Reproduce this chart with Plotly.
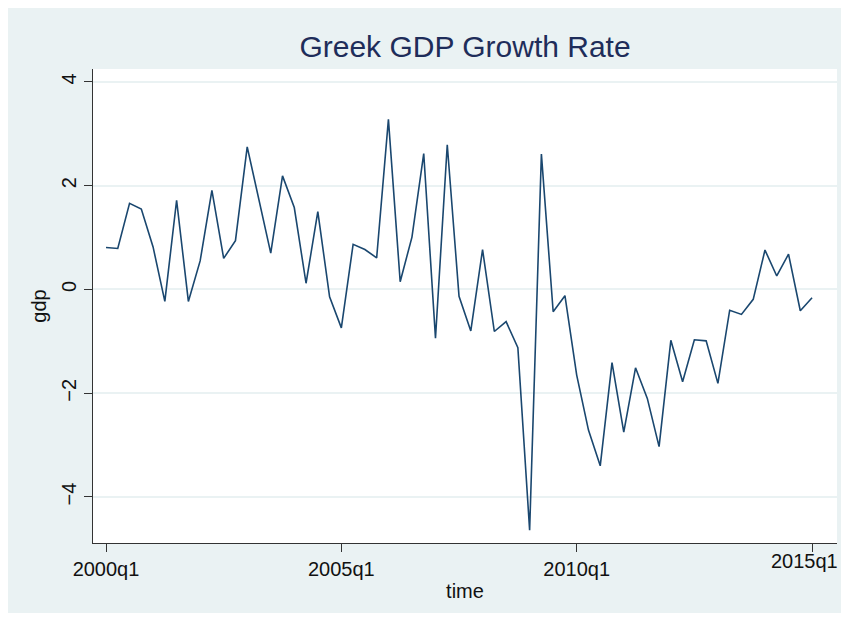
import plotly.graph_objects as go

# Quarterly Greek GDP growth rate, 2000q1 .. 2015q1
quarters = [f"{y}q{q}" for y in range(2000, 2016) for q in range(1, 5)][:61]
gdp = [0.81, 0.79, 1.66, 1.55, 0.82, -0.23, 1.72, -0.23, 0.55, 1.91,
       0.60, 0.94, 2.75, 1.72, 0.70, 2.19, 1.58, 0.12, 1.50, -0.14,
       -0.74, 0.87, 0.77, 0.61, 3.28, 0.15, 1.01, 2.62, -0.94, 2.79,
       -0.13, -0.80, 0.77, -0.81, -0.62, -1.12, -4.64, 2.61, -0.43, -0.12,
       -1.65, -2.71, -3.40, -1.41, -2.75, -1.51, -2.10, -3.03, -0.98, -1.78,
       -0.97, -0.99, -1.81, -0.40, -0.48, -0.19, 0.76, 0.26, 0.68, -0.41,
       -0.16]
x_tick_labels = ["2000q1", "2005q1", "2010q1", "2015q1"]
y_tick_vals = [-4, -2, 0, 2, 4]
y_tick_text = ["\u22124", "\u22122", "0", "2", "4"]

idx = list(range(len(gdp)))
x_tick_vals = [quarters.index(t) for t in x_tick_labels]

font = "Liberation Sans, Arial, sans-serif"
bg = "#eaf2f3"
axis_col = "#333333"
W, H = 833, 605
L, R, T, B = 85, 4, 61, 70
PW = W - L - R

fig = go.Figure()
fig.add_trace(go.Scatter(
    x=idx, y=gdp, mode="lines",
    line=dict(color="#1a476f", width=1.6),
    text=quarters, hovertemplate="%{text}: %{y}<extra></extra>",
))

# last tick label would run past the figure edge; place it flush right instead
shown_text = x_tick_labels[:-1] + [""]

fig.update_layout(
    width=W, height=H,
    margin=dict(l=L, r=R, t=T, b=B),
    paper_bgcolor=bg, plot_bgcolor="white",
    showlegend=False,
    font=dict(family=font, size=20, color="#111111"),
    title=dict(text="Greek GDP Growth Rate", x=457 / W, xanchor="center",
               y=1 - 38 / H, yanchor="middle",
               font=dict(family=font, size=30, color="#1e2d5a")),
    xaxis=dict(
        range=[-1.105, 62.12], tickvals=x_tick_vals, ticktext=shown_text,
        ticks="outside", ticklen=8, tickcolor=axis_col, tickwidth=1,
        showline=True, linecolor=axis_col, linewidth=1,
        showgrid=False, zeroline=False,
        title=dict(text="time", standoff=4, font=dict(size=20)),
        tickfont=dict(size=20),
    ),
    yaxis=dict(
        range=[-4.887, 4.25], tickvals=y_tick_vals, ticktext=y_tick_text,
        tickangle=-90,
        ticks="outside", ticklen=8, tickcolor=axis_col, tickwidth=1,
        showline=True, linecolor=axis_col, linewidth=1,
        showgrid=True, gridcolor=bg, gridwidth=1.5, zeroline=False,
        title=dict(text="gdp", standoff=6, font=dict(size=20)),
        tickfont=dict(size=20),
    ),
    annotations=[dict(
        text=x_tick_labels[-1], xref="paper", yref="paper",
        x=(W - 1 - L) / PW, y=0, xanchor="right", yanchor="top",
        yshift=-5, showarrow=False, font=dict(family=font, size=20, color="#111111"),
    )],
)

fig.write_html("out.html")
